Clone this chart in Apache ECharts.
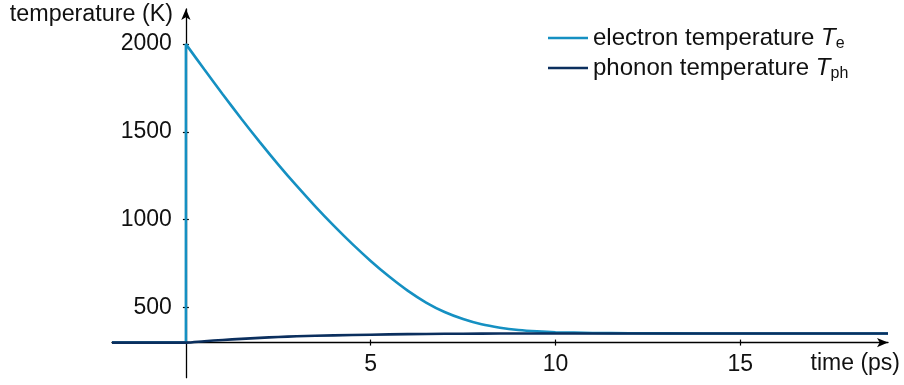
<!DOCTYPE html>
<html>
<head>
<meta charset="utf-8">
<style>
  html, body { margin: 0; padding: 0; background: #fff; }
  #chart { width: 904px; height: 385px; }
</style>
<script src="https://cdn.jsdelivr.net/npm/echarts@6/dist/echarts.min.js"></script>
</head>
<body>
<div id="chart"></div>
<script>
// Two-temperature model after a laser pulse at t = 0: electron and lattice temperatures.
var eTime = [-2, 0, 0, 0.5, 1, 1.5, 2, 2.5, 3, 3.5, 4, 4.5, 5, 5.5, 6, 6.5, 7, 7.5, 8, 8.5, 9, 9.5, 10, 11, 12, 14, 19];
var eTemp = [300, 300, 2000, 1855, 1713, 1575, 1442, 1314, 1192, 1076, 966, 862, 765, 676, 596, 528, 474, 434, 404, 385, 372, 364, 359, 355, 353, 352, 352];

var phTime = [-2, 0, 0.5, 1, 1.5, 2, 2.5, 3, 4, 5, 6, 7, 8, 9, 10, 12, 19];
var phTemp = [300, 300, 308, 315, 321, 327, 332, 336, 341, 345, 348, 350, 351, 352, 352, 352, 352];

var xTicks = [5, 10, 15];
var yTicks = [500, 1000, 1500, 2000];

var xMin = -2, xMax = 19, yMin = 100, yMax = 2200;
var crossX = 0, crossY = 300;   // where the two axes meet

var gridLeft = 112, gridRight = 16, gridTop = 9, gridBottom = 7.3;
var W = 904, H = 385;
var plotW = W - gridLeft - gridRight;
var plotH = H - gridTop - gridBottom;
var xOffset = -(crossY - yMin) / (yMax - yMin) * plotH;
var yOffset = -(crossX - xMin) / (xMax - xMin) * plotW;

var FONT = '"Liberation Sans", Arial, sans-serif';
var C_E = '#1590c2';
var C_PH = '#0b2f5e';

function pairs(xs, ys) {
  return xs.map(function (x, i) { return [x, ys[i]]; });
}

function plain(v) { return String(v); }

function xAxisDef(inside, withLine) {
  return {
    type: 'value', min: xMin, max: xMax, position: 'bottom', offset: xOffset,
    splitLine: { show: false },
    axisLine: withLine ? {
      show: true, onZero: false,
      symbol: ['none', 'arrow'], symbolSize: [7, 11],
      lineStyle: { color: '#000', width: 1.3 }
    } : { show: false },
    axisTick: { show: true, inside: inside, length: 3, customValues: xTicks,
                lineStyle: { color: '#000', width: 1.2 } },
    axisLabel: withLine ? { show: true, customValues: xTicks, margin: 11, formatter: plain,
                 color: '#111', fontFamily: FONT, fontSize: 23 } : { show: false }
  };
}

function yAxisDef(inside, withLine) {
  return {
    type: 'value', min: yMin, max: yMax, position: 'left', offset: yOffset,
    splitLine: { show: false },
    axisLine: withLine ? {
      show: true, onZero: false,
      symbol: ['none', 'arrow'], symbolSize: [7, 11],
      lineStyle: { color: '#000', width: 1.3 }
    } : { show: false },
    axisTick: { show: true, inside: inside, length: 3, customValues: yTicks,
                lineStyle: { color: '#000', width: 1.2 } },
    axisLabel: withLine ? { show: true, customValues: yTicks, margin: 14, formatter: plain,
                 color: '#111', fontFamily: FONT, fontSize: 23 } : { show: false }
  };
}

var chart = echarts.init(document.getElementById('chart'), null, { renderer: 'canvas' });

chart.setOption({
  animation: false,
  backgroundColor: '#fff',
  grid: { left: gridLeft, right: gridRight, top: gridTop, bottom: gridBottom, containLabel: false },
  xAxis: [xAxisDef(false, true), xAxisDef(true, false)],
  yAxis: [yAxisDef(false, true), yAxisDef(true, false)],
  legend: {
    orient: 'vertical', left: 543, top: 21,
    itemWidth: 40, itemHeight: 14, itemGap: 4,
    icon: 'path://M0,0 L40,0 L40,2.6 L0,2.6 Z',
    textStyle: {
      fontFamily: FONT, fontSize: 24, color: '#111',
      rich: {
        it: { fontFamily: FONT, fontSize: 24, fontStyle: 'italic', color: '#111' },
        sub: { fontFamily: FONT, fontSize: 16, color: '#111', padding: [12, 0, 0, 0] }
      }
    },
    formatter: function (name) {
      if (name === 'electron') return 'electron temperature {it|T}{sub|e}';
      return 'phonon temperature {it|T}{sub|ph}';
    },
    data: ['electron', 'phonon']
  },
  graphic: [
    { type: 'text', right: W - 173, top: 3,
      style: { text: 'temperature (K)', fontFamily: FONT, fontSize: 23.3, fill: '#111', textAlign: 'right' } },
    { type: 'text', right: 4, top: 352,
      style: { text: 'time (ps)', fontFamily: FONT, fontSize: 23, fill: '#111', textAlign: 'right' } }
  ],
  series: [
    { name: 'electron', type: 'line', data: pairs(eTime, eTemp), smooth: 0.25,
      showSymbol: false, symbol: 'none', color: C_E,
      lineStyle: { color: C_E, width: 2.6 }, z: 3 },
    { name: 'phonon', type: 'line', data: pairs(phTime, phTemp), smooth: 0.3,
      showSymbol: false, symbol: 'none', color: C_PH,
      lineStyle: { color: C_PH, width: 2.6 }, z: 4 }
  ]
});
</script>
</body>
</html>
